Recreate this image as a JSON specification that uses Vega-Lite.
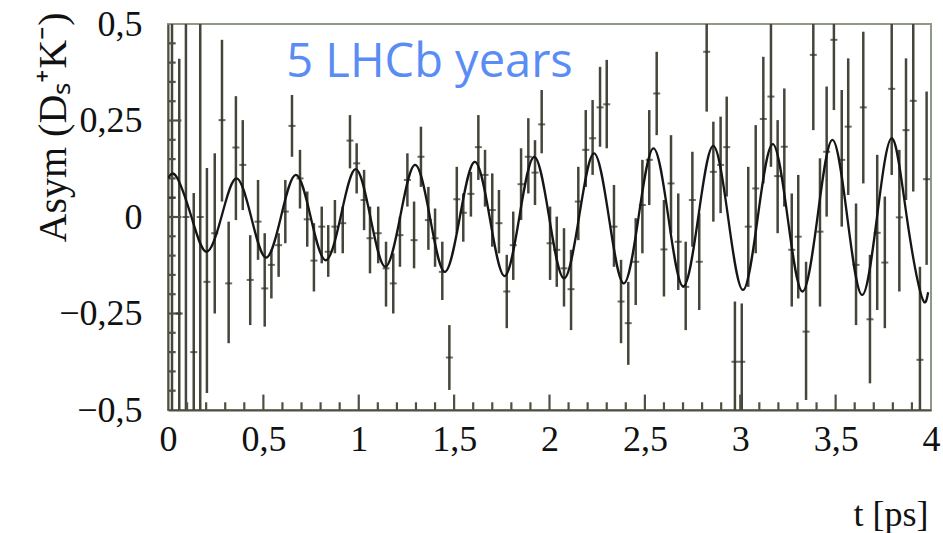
{
  "$schema": "https://vega.github.io/schema/vega-lite/v6.json",
  "width": 763,
  "height": 386,
  "autosize": {"type": "none"},
  "padding": {"left": 168, "top": 24, "right": 12, "bottom": 123},
  "background": "white",
  "config": {
    "view": {"stroke": "#8e9a86", "strokeWidth": 2},
    "axis": {
      "labelFont": "Liberation Serif",
      "labelFontSize": 36,
      "labelColor": "#111111",
      "titleFont": "Liberation Serif",
      "titleFontSize": 36,
      "titleFontWeight": "normal",
      "titleColor": "#111111",
      "domainColor": "#4e4f42",
      "domainWidth": 2,
      "grid": false
    }
  },
  "datasets": {
    "pts": [
      {"t": 0.021, "a": 0.05, "lo": -0.9, "hi": 0.9},
      {"t": 0.059, "a": -0.25, "lo": -0.9, "hi": 0.41},
      {"t": 0.094, "a": 0.0, "lo": -0.9, "hi": 0.9},
      {"t": 0.135, "a": -0.35, "lo": -0.9, "hi": 0.062},
      {"t": 0.169, "a": 0.0, "lo": -0.9, "hi": 0.9},
      {"t": 0.204, "a": -0.168, "lo": -0.456, "hi": 0.127},
      {"t": 0.245, "a": -0.042, "lo": -0.25, "hi": 0.165},
      {"t": 0.283, "a": 0.251, "lo": 0.04, "hi": 0.459},
      {"t": 0.318, "a": -0.172, "lo": -0.327, "hi": -0.012},
      {"t": 0.356, "a": 0.18, "lo": -0.008, "hi": 0.313},
      {"t": 0.392, "a": 0.135, "lo": 0.018, "hi": 0.251},
      {"t": 0.431, "a": -0.163, "lo": -0.28, "hi": -0.047},
      {"t": 0.472, "a": -0.012, "lo": -0.111, "hi": 0.096},
      {"t": 0.507, "a": -0.185, "lo": -0.284, "hi": -0.042},
      {"t": 0.542, "a": -0.124, "lo": -0.211, "hi": -0.085},
      {"t": 0.58, "a": -0.073, "lo": -0.155, "hi": -0.042},
      {"t": 0.615, "a": 0.014, "lo": -0.068, "hi": 0.096},
      {"t": 0.65, "a": 0.236, "lo": 0.156, "hi": 0.316},
      {"t": 0.692, "a": 0.1, "lo": 0.022, "hi": 0.174},
      {"t": 0.73, "a": -0.006, "lo": -0.077, "hi": 0.066},
      {"t": 0.765, "a": -0.113, "lo": -0.193, "hi": -0.016},
      {"t": 0.806, "a": -0.025, "lo": -0.12, "hi": 0.027},
      {"t": 0.84, "a": -0.09, "lo": -0.155, "hi": -0.021},
      {"t": 0.875, "a": -0.025, "lo": -0.094, "hi": 0.044},
      {"t": 0.916, "a": -0.016, "lo": -0.094, "hi": 0.027},
      {"t": 0.954, "a": 0.198, "lo": 0.126, "hi": 0.264},
      {"t": 0.989, "a": 0.139, "lo": 0.061, "hi": 0.191},
      {"t": 1.028, "a": 0.044, "lo": -0.034, "hi": 0.122},
      {"t": 1.059, "a": -0.055, "lo": -0.146, "hi": 0.027},
      {"t": 1.102, "a": -0.042, "lo": -0.12, "hi": 0.027},
      {"t": 1.143, "a": -0.133, "lo": -0.232, "hi": -0.064},
      {"t": 1.181, "a": -0.172, "lo": -0.25, "hi": -0.094},
      {"t": 1.216, "a": -0.047, "lo": -0.129, "hi": 0.001},
      {"t": 1.255, "a": 0.096, "lo": 0.027, "hi": 0.165},
      {"t": 1.29, "a": -0.06, "lo": -0.133, "hi": 0.04},
      {"t": 1.326, "a": 0.156, "lo": 0.078, "hi": 0.234},
      {"t": 1.365, "a": -0.008, "lo": -0.085, "hi": 0.078},
      {"t": 1.4, "a": -0.055, "lo": -0.129, "hi": 0.022},
      {"t": 1.438, "a": -0.142, "lo": -0.215, "hi": -0.064},
      {"t": 1.475, "a": -0.364, "lo": -0.448, "hi": -0.28},
      {"t": 1.514, "a": 0.046, "lo": -0.042, "hi": 0.13},
      {"t": 1.548, "a": 0.011, "lo": -0.064, "hi": 0.061},
      {"t": 1.588, "a": 0.06, "lo": 0.001, "hi": 0.117},
      {"t": 1.627, "a": 0.181, "lo": 0.096, "hi": 0.264},
      {"t": 1.662, "a": 0.109, "lo": 0.027, "hi": 0.174},
      {"t": 1.7, "a": 0.018, "lo": -0.077, "hi": 0.113},
      {"t": 1.735, "a": -0.016, "lo": -0.094, "hi": 0.07},
      {"t": 1.776, "a": -0.193, "lo": -0.288, "hi": -0.098},
      {"t": 1.81, "a": -0.073, "lo": -0.163, "hi": 0.014},
      {"t": 1.851, "a": 0.085, "lo": -0.008, "hi": 0.178},
      {"t": 1.889, "a": 0.156, "lo": 0.061, "hi": 0.256},
      {"t": 1.924, "a": 0.115, "lo": 0.031, "hi": 0.199},
      {"t": 1.959, "a": 0.24, "lo": 0.165, "hi": 0.329},
      {"t": 2.003, "a": -0.068, "lo": -0.163, "hi": 0.027},
      {"t": 2.038, "a": -0.085, "lo": -0.181, "hi": 0.001},
      {"t": 2.076, "a": -0.133, "lo": -0.232, "hi": -0.029},
      {"t": 2.113, "a": -0.187, "lo": -0.293, "hi": -0.085},
      {"t": 2.151, "a": 0.04, "lo": -0.06, "hi": 0.13},
      {"t": 2.19, "a": 0.174, "lo": 0.078, "hi": 0.277},
      {"t": 2.226, "a": 0.204, "lo": 0.109, "hi": 0.303},
      {"t": 2.265, "a": 0.284, "lo": 0.182, "hi": 0.389},
      {"t": 2.3, "a": 0.292, "lo": 0.178, "hi": 0.407},
      {"t": 2.338, "a": -0.025, "lo": -0.129, "hi": 0.083},
      {"t": 2.375, "a": -0.219, "lo": -0.327, "hi": -0.111},
      {"t": 2.413, "a": -0.275, "lo": -0.383, "hi": -0.168},
      {"t": 2.452, "a": -0.116, "lo": -0.228, "hi": -0.003},
      {"t": 2.487, "a": 0.031, "lo": -0.094, "hi": 0.148},
      {"t": 2.523, "a": 0.148, "lo": 0.031, "hi": 0.277},
      {"t": 2.562, "a": 0.32, "lo": 0.212, "hi": 0.428},
      {"t": 2.6, "a": -0.084, "lo": -0.206, "hi": 0.044},
      {"t": 2.637, "a": 0.087, "lo": -0.042, "hi": 0.212},
      {"t": 2.675, "a": -0.064, "lo": -0.189, "hi": 0.061},
      {"t": 2.714, "a": -0.181, "lo": -0.293, "hi": -0.064},
      {"t": 2.749, "a": 0.044, "lo": -0.077, "hi": 0.169},
      {"t": 2.785, "a": -0.116, "lo": -0.241, "hi": 0.01},
      {"t": 2.824, "a": 0.428, "lo": 0.273, "hi": 0.6},
      {"t": 2.859, "a": 0.117, "lo": -0.012, "hi": 0.247},
      {"t": 2.897, "a": 0.135, "lo": 0.01, "hi": 0.26},
      {"t": 2.929, "a": 0.181, "lo": 0.053, "hi": 0.312},
      {"t": 2.972, "a": -0.375, "lo": -0.6, "hi": -0.219},
      {"t": 3.008, "a": -0.375, "lo": -0.6, "hi": -0.224},
      {"t": 3.042, "a": -0.025, "lo": -0.181, "hi": 0.13},
      {"t": 3.081, "a": 0.074, "lo": -0.094, "hi": 0.238},
      {"t": 3.121, "a": 0.254, "lo": 0.087, "hi": 0.415},
      {"t": 3.161, "a": 0.312, "lo": 0.13, "hi": 0.55},
      {"t": 3.196, "a": 0.106, "lo": -0.042, "hi": 0.251},
      {"t": 3.231, "a": 0.182, "lo": 0.027, "hi": 0.333},
      {"t": 3.27, "a": -0.085, "lo": -0.232, "hi": 0.061},
      {"t": 3.304, "a": -0.051, "lo": -0.211, "hi": 0.109},
      {"t": 3.345, "a": -0.297, "lo": -0.474, "hi": -0.116},
      {"t": 3.383, "a": 0.42, "lo": 0.225, "hi": 0.62},
      {"t": 3.418, "a": -0.038, "lo": -0.232, "hi": 0.152},
      {"t": 3.453, "a": 0.169, "lo": 0.001, "hi": 0.338},
      {"t": 3.491, "a": 0.459, "lo": 0.277, "hi": 0.65},
      {"t": 3.532, "a": 0.148, "lo": -0.025, "hi": 0.329},
      {"t": 3.566, "a": 0.234, "lo": 0.057, "hi": 0.411},
      {"t": 3.607, "a": -0.124, "lo": -0.28, "hi": 0.035},
      {"t": 3.645, "a": 0.284, "lo": 0.087, "hi": 0.48},
      {"t": 3.68, "a": -0.265, "lo": -0.431, "hi": -0.098},
      {"t": 3.718, "a": -0.041, "lo": -0.241, "hi": 0.161},
      {"t": 3.758, "a": -0.118, "lo": -0.288, "hi": 0.053},
      {"t": 3.794, "a": 0.332, "lo": 0.109, "hi": 0.56},
      {"t": 3.834, "a": -0.001, "lo": -0.193, "hi": 0.174},
      {"t": 3.869, "a": 0.225, "lo": 0.044, "hi": 0.411},
      {"t": 3.907, "a": 0.301, "lo": 0.066, "hi": 0.55},
      {"t": 3.942, "a": -0.37, "lo": -0.6, "hi": -0.129},
      {"t": 3.977, "a": 0.098, "lo": -0.124, "hi": 0.325}
    ],
    "fit": [
      {"t": 0.0, "f": 0.1},
      {"t": 0.045, "f": 0.104},
      {"t": 0.123, "f": 0.0},
      {"t": 0.201, "f": -0.09},
      {"t": 0.28, "f": 0.0},
      {"t": 0.358, "f": 0.1},
      {"t": 0.436, "f": 0.0},
      {"t": 0.514, "f": -0.105},
      {"t": 0.592, "f": 0.0},
      {"t": 0.67, "f": 0.109},
      {"t": 0.748, "f": 0.0},
      {"t": 0.826, "f": -0.112},
      {"t": 0.905, "f": 0.0},
      {"t": 0.983, "f": 0.124},
      {"t": 1.061, "f": 0.0},
      {"t": 1.139, "f": -0.129},
      {"t": 1.217, "f": 0.0},
      {"t": 1.295, "f": 0.135},
      {"t": 1.373, "f": 0.0},
      {"t": 1.451, "f": -0.142},
      {"t": 1.53, "f": 0.0},
      {"t": 1.608, "f": 0.143},
      {"t": 1.686, "f": 0.0},
      {"t": 1.764, "f": -0.153},
      {"t": 1.842, "f": 0.0},
      {"t": 1.92, "f": 0.156},
      {"t": 1.998, "f": 0.0},
      {"t": 2.076, "f": -0.159},
      {"t": 2.155, "f": 0.0},
      {"t": 2.233, "f": 0.165},
      {"t": 2.311, "f": 0.0},
      {"t": 2.389, "f": -0.172},
      {"t": 2.467, "f": 0.0},
      {"t": 2.545, "f": 0.178},
      {"t": 2.623, "f": 0.0},
      {"t": 2.701, "f": -0.18},
      {"t": 2.78, "f": 0.0},
      {"t": 2.858, "f": 0.184},
      {"t": 2.936, "f": 0.0},
      {"t": 3.014, "f": -0.189},
      {"t": 3.092, "f": 0.0},
      {"t": 3.17, "f": 0.189},
      {"t": 3.248, "f": 0.0},
      {"t": 3.326, "f": -0.193},
      {"t": 3.405, "f": 0.0},
      {"t": 3.483, "f": 0.2},
      {"t": 3.561, "f": 0.0},
      {"t": 3.639, "f": -0.202},
      {"t": 3.717, "f": 0.0},
      {"t": 3.795, "f": 0.204},
      {"t": 3.873, "f": 0.0},
      {"t": 3.951, "f": -0.206},
      {"t": 3.985, "f": -0.195}
    ],
    "note": [
      {"t": 1.371, "y": 0.363, "label": "5 LHCb years"}
    ],
    "xminor": [
      {"v": 0.1}, {"v": 0.2}, {"v": 0.3}, {"v": 0.4}, {"v": 0.6}, {"v": 0.7}, {"v": 0.8}, {"v": 0.9},
      {"v": 1.1}, {"v": 1.2}, {"v": 1.3}, {"v": 1.4}, {"v": 1.6}, {"v": 1.7}, {"v": 1.8}, {"v": 1.9},
      {"v": 2.1}, {"v": 2.2}, {"v": 2.3}, {"v": 2.4}, {"v": 2.6}, {"v": 2.7}, {"v": 2.8}, {"v": 2.9},
      {"v": 3.1}, {"v": 3.2}, {"v": 3.3}, {"v": 3.4}, {"v": 3.6}, {"v": 3.7}, {"v": 3.8}, {"v": 3.9}
    ],
    "xmajor": [
      {"v": 0.5}, {"v": 1}, {"v": 1.5}, {"v": 2}, {"v": 2.5}, {"v": 3}, {"v": 3.5}
    ],
    "yminor": [
      {"v": -0.45}, {"v": -0.4}, {"v": -0.35}, {"v": -0.3}, {"v": -0.2}, {"v": -0.15}, {"v": -0.1}, {"v": -0.05},
      {"v": 0.05}, {"v": 0.1}, {"v": 0.15}, {"v": 0.2}, {"v": 0.3}, {"v": 0.35}, {"v": 0.4}, {"v": 0.45}
    ],
    "ymajor": [
      {"v": -0.25}, {"v": 0}, {"v": 0.25}
    ]
  },
  "layer": [
    {
      "data": {"name": "pts"},
      "mark": {"type": "rule", "clip": true, "color": "#45453a", "strokeWidth": 2.5},
      "encoding": {
        "x": {
          "field": "t", "type": "quantitative",
          "scale": {"domain": [0, 4], "nice": false, "zero": false},
          "axis": {
            "orient": "bottom",
            "values": [0, 0.5, 1, 1.5, 2, 2.5, 3, 3.5, 4],
            "ticks": false,
            "labelExpr": "replace(format(datum.value, '~g'), '.', ',')",
            "labelFlush": false,
            "labelOverlap": false,
            "labelPadding": 12,
            "title": "t [ps]",
            "titleX": 760,
            "titleY": 115,
            "titleAlign": "right",
            "titleBaseline": "alphabetic"
          }
        },
        "y": {
          "field": "lo", "type": "quantitative",
          "scale": {"domain": [-0.5, 0.5], "nice": false, "zero": false},
          "axis": {
            "orient": "left",
            "values": [-0.5, -0.25, 0, 0.25, 0.5],
            "ticks": false,
            "labelExpr": "replace(format(datum.value, '~g'), '.', ',')",
            "labelFlush": false,
            "labelOverlap": false,
            "labelPadding": 26,
            "title": "Asym (Dₛ⁺K⁻)",
            "titleFontSize": 40,
            "titleX": -103,
            "titleY": -12,
            "titleAngle": -90,
            "titleAlign": "right",
            "titleBaseline": "alphabetic"
          }
        },
        "y2": {"field": "hi"}
      }
    },
    {
      "data": {"name": "xminor"},
      "mark": {"type": "rule", "strokeWidth": 2.2, "color": "#4e5042"},
      "encoding": {
        "x": {"field": "v", "type": "quantitative"},
        "y": {"datum": -0.5, "type": "quantitative"},
        "y2": {"datum": -0.48}
      }
    },
    {
      "data": {"name": "xmajor"},
      "mark": {"type": "rule", "strokeWidth": 2.2, "color": "#4e5042"},
      "encoding": {
        "x": {"field": "v", "type": "quantitative"},
        "y": {"datum": -0.5, "type": "quantitative"},
        "y2": {"datum": -0.46}
      }
    },
    {
      "data": {"name": "yminor"},
      "mark": {"type": "rule", "strokeWidth": 2.2, "color": "#4e5042"},
      "encoding": {
        "y": {"field": "v", "type": "quantitative"},
        "x": {"datum": 0, "type": "quantitative"},
        "x2": {"datum": 0.04}
      }
    },
    {
      "data": {"name": "ymajor"},
      "mark": {"type": "rule", "strokeWidth": 2.2, "color": "#4e5042"},
      "encoding": {
        "y": {"field": "v", "type": "quantitative"},
        "x": {"datum": 0, "type": "quantitative"},
        "x2": {"datum": 0.07}
      }
    },
    {
      "data": {"name": "pts"},
      "mark": {"type": "tick", "orient": "horizontal", "size": 7, "thickness": 2, "color": "#2f2f28", "clip": true},
      "encoding": {
        "x": {"field": "t", "type": "quantitative"},
        "y": {"field": "a", "type": "quantitative"}
      }
    },
    {
      "data": {"name": "fit"},
      "mark": {"type": "line", "interpolate": "natural", "color": "#161616", "strokeWidth": 2.3, "clip": true},
      "encoding": {
        "x": {"field": "t", "type": "quantitative"},
        "y": {"field": "f", "type": "quantitative"}
      }
    },
    {
      "data": {"name": "note"},
      "mark": {"type": "text", "font": "Open Sans", "fontSize": 47, "color": "#5a8cf5", "align": "center", "baseline": "alphabetic"},
      "encoding": {
        "x": {"field": "t", "type": "quantitative"},
        "y": {"field": "y", "type": "quantitative"},
        "text": {"field": "label"}
      }
    }
  ]
}
